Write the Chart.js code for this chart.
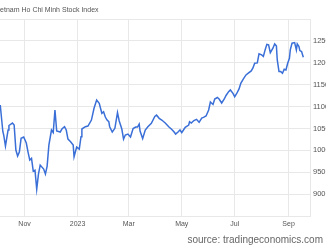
<!DOCTYPE html>
<html>
<head>
<meta charset="utf-8">
<script src="https://cdn.jsdelivr.net/npm/chart.js@4"></script>
<style>
  html, body { margin: 0; padding: 0; background: #fff; overflow: hidden; }
  body { width: 326px; height: 245px; position: relative; }
  #chart { position: absolute; left: -6px; top: 0; }
  #source {
    position: absolute; right: 3px; top: 234px;
    font: 10px/11px Arial, "Liberation Sans", sans-serif; color: #666;
    white-space: nowrap;
  }
</style>
</head>
<body>
<canvas id="chart" width="340" height="245"></canvas>
<div id="source">source: tradingeconomics.com</div>
<script>
// VN-Index closes
const dates = [
  '2022-10-04','2022-10-07','2022-10-08','2022-10-10','2022-10-13','2022-10-14','2022-10-18','2022-10-20',
  '2022-10-22','2022-10-24','2022-10-26','2022-10-28','2022-10-31','2022-11-03','2022-11-05','2022-11-07',
  '2022-11-09','2022-11-11','2022-11-13','2022-11-15','2022-11-17','2022-11-19','2022-11-23','2022-11-25',
  '2022-11-27','2022-11-29','2022-12-02','2022-12-04','2022-12-06','2022-12-08','2022-12-12','2022-12-14',
  '2022-12-17','2022-12-19','2022-12-21','2022-12-24','2022-12-27','2022-12-28','2022-12-31','2023-01-03',
  '2023-01-05','2023-01-06','2023-01-10','2023-01-13','2023-01-17','2023-01-20','2023-01-23','2023-01-26',
  '2023-01-29','2023-01-31','2023-02-02','2023-02-04','2023-02-06','2023-02-07','2023-02-10','2023-02-13',
  '2023-02-16','2023-02-18','2023-02-21','2023-02-23','2023-02-25','2023-02-28','2023-03-03','2023-03-06',
  '2023-03-09','2023-03-11','2023-03-13','2023-03-14','2023-03-17','2023-03-20','2023-03-23','2023-03-27',
  '2023-03-31','2023-04-02','2023-04-05','2023-04-08','2023-04-12','2023-04-16','2023-04-19','2023-04-22',
  '2023-04-24','2023-04-27','2023-04-29','2023-05-01','2023-05-03','2023-05-05','2023-05-09','2023-05-10',
  '2023-05-12','2023-05-15','2023-05-18','2023-05-21','2023-05-24','2023-05-26','2023-05-29','2023-06-01',
  '2023-06-03','2023-06-06','2023-06-08','2023-06-11','2023-06-13','2023-06-16','2023-06-19','2023-06-21',
  '2023-06-24','2023-06-26','2023-06-29','2023-07-01','2023-07-03','2023-07-06','2023-07-08','2023-07-11',
  '2023-07-14','2023-07-17','2023-07-20','2023-07-22','2023-07-24','2023-07-27','2023-07-29','2023-08-01',
  '2023-08-03','2023-08-05','2023-08-07','2023-08-09','2023-08-11','2023-08-14','2023-08-16','2023-08-18',
  '2023-08-19','2023-08-21','2023-08-23','2023-08-25','2023-08-27','2023-08-29','2023-08-31','2023-09-02',
  '2023-09-03','2023-09-05','2023-09-08','2023-09-10','2023-09-11','2023-09-13','2023-09-14','2023-09-16',
  '2023-09-18'
];
const values = [
  1103.6, 1042.5, 1034.9, 1009.8, 1046.4, 1056.7, 1062.4, 1057.8,
  1000.6, 986.9, 996.0, 1027.4, 1030.4, 1016.6, 996.0, 977.7,
  981.6, 952.6, 954.8, 911.4, 945.7, 966.3, 957.1, 945.7,
  964.0, 1012.0, 1046.4, 1040.6, 1092.1, 1044.1, 1041.8, 1048.7,
  1053.9, 1046.4, 1025.8, 1019.6, 1012.0, 985.3, 1007.5, 1002.9,
  1031.0, 1048.7, 1053.9, 1055.5, 1069.2, 1096.0, 1115.0, 1107.5,
  1084.6, 1088.2, 1076.1, 1069.2, 1065.4, 1053.9, 1041.8, 1050.3,
  1086.4, 1067.0, 1048.7, 1025.8, 1034.9, 1037.2, 1030.4, 1049.8,
  1053.2, 1053.2, 1060.1, 1044.1, 1026.9, 1046.4, 1053.9, 1061.7,
  1077.3, 1080.7, 1073.1, 1069.2, 1062.4, 1053.9, 1048.7, 1042.5,
  1037.2, 1042.5, 1046.4, 1040.6, 1046.4, 1052.5, 1057.8, 1065.4,
  1062.4, 1068.1, 1070.8, 1064.0, 1073.8, 1075.4, 1078.4, 1092.1,
  1110.4, 1104.7, 1117.3, 1120.7, 1117.3, 1108.1, 1117.3, 1125.3,
  1134.0, 1137.9, 1130.3, 1122.6, 1128.7, 1140.2, 1153.2, 1163.1,
  1172.2, 1176.8, 1181.4, 1188.2, 1199.0, 1199.7, 1220.3, 1218.0,
  1214.5, 1229.4, 1242.0, 1240.8, 1223.2, 1233.3, 1243.1, 1238.6,
  1206.5, 1179.8, 1179.8, 1176.1, 1185.2, 1183.6, 1199.0, 1210.4,
  1229.4, 1244.7, 1246.1, 1229.4, 1243.1, 1237.0, 1227.8, 1225.5,
  1212.7
];
const tickDates = ['2022-11-01', '2023-01-01', '2023-03-01', '2023-05-01', '2023-07-01', '2023-09-01'];
const tickLabels = ['Nov', '2023', 'Mar', 'May', 'Jul', 'Sep'];

const base = Date.parse('2022-11-01');
const dayOf = s => (Date.parse(s) - base) / 864e5;
const tickDays = tickDates.map(dayOf);

const gridColor = '#e8e8e8';
const font = 'Arial, "Liberation Sans", sans-serif';

new Chart(document.getElementById('chart'), {
  type: 'line',
  data: {
    datasets: [{
      label: 'Vietnam Ho Chi Minh Stock Index',
      data: dates.map((d, i) => ({ x: dayOf(d), y: values[i] })),
      borderColor: '#3a6fd8',
      borderWidth: 1.5,
      pointRadius: 0,
      tension: 0,
      fill: false
    }]
  },
  options: {
    responsive: false,
    animation: false,
    devicePixelRatio: 1,
    layout: { padding: { bottom: 13 } },
    plugins: {
      legend: { display: false },
      tooltip: { enabled: false },
      title: {
        display: true,
        text: 'Vietnam Ho Chi Minh Stock Index',
        align: 'start',
        color: '#555',
        font: { family: font, size: 7, weight: 'normal', lineHeight: 1.2 },
        padding: { top: 5.8, bottom: 4.8 }
      }
    },
    scales: {
      x: {
        type: 'linear',
        min: -35.2,
        max: 328.7,
        afterBuildTicks: s => { s.ticks = tickDays.map(v => ({ value: v })); },
        afterFit: s => { s.height = 16; },
        ticks: {
          padding: 4,
          maxRotation: 0,
          autoSkip: false,
          color: '#555',
          font: { family: font, size: 7 },
          callback: v => tickLabels[tickDays.indexOf(v)]
        },
        grid: { color: gridColor, drawTicks: false },
        border: { color: gridColor }
      },
      y: {
        position: 'right',
        min: 850,
        max: 1300,
        afterFit: s => { s.width = 24; },
        ticks: {
          stepSize: 50,
          padding: 3,
          color: '#555',
          font: { family: font, size: 7.5 },
          callback: v => (v === 850 || v === 1300) ? '' : v
        },
        grid: { color: gridColor, drawTicks: false },
        border: { color: gridColor }
      }
    }
  }
});
</script>
</body>
</html>
